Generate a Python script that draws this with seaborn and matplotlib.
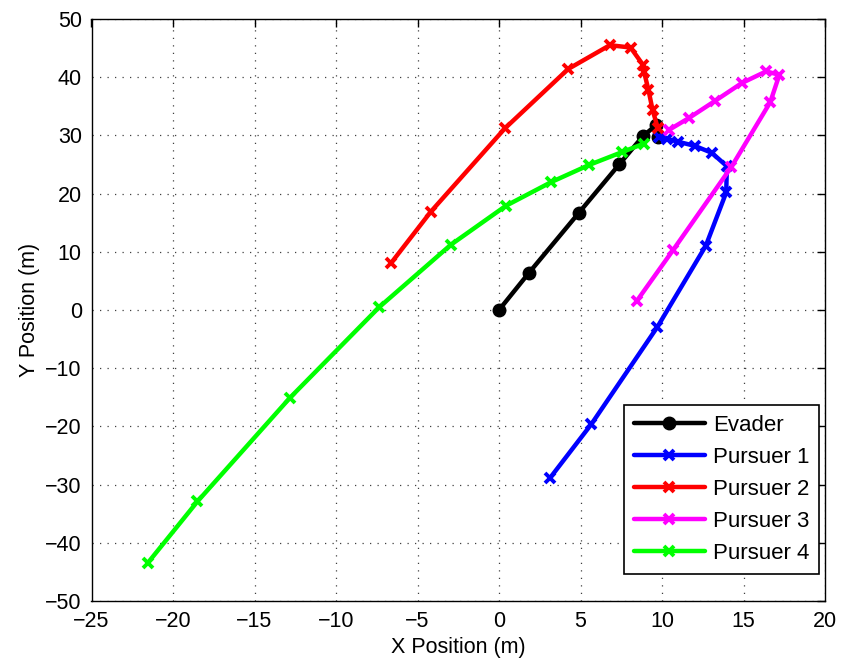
import matplotlib
matplotlib.use("Agg")
import matplotlib.pyplot as plt
import seaborn as sns
import numpy as np

# Trajectories (metres)
evader_x = [0.0, 1.83, 4.9, 7.37, 8.84, 9.66, 9.76]
evader_y = [0.0, 6.36, 16.7, 25.0, 29.9, 31.8, 29.8]

p1_x = [3.12, 5.67, 9.72, 12.69, 13.94, 13.98, 13.06, 12.01, 11.0, 10.29, 9.8]
p1_y = [-28.9, -19.6, -2.9, 11.05, 20.2, 24.7, 27.0, 28.2, 28.9, 29.4, 29.7]

p2_x = [-6.64, -4.18, 0.36, 4.24, 6.8, 8.07, 8.84, 8.9, 9.17, 9.42, 9.74]
p2_y = [8.0, 16.9, 31.2, 41.4, 45.5, 45.1, 42.1, 40.9, 37.8, 34.4, 31.3]

p3_x = [8.44, 10.68, 14.26, 16.64, 17.2, 16.39, 14.9, 13.24, 11.66, 10.46]
p3_y = [1.5, 10.3, 24.6, 35.7, 40.4, 41.0, 39.0, 35.9, 33.0, 31.0]

p4_x = [-21.53, -18.5, -12.83, -7.36, -2.96, 0.42, 3.22, 5.51, 7.52, 8.9]
p4_y = [-43.4, -32.9, -15.1, 0.46, 11.2, 17.9, 22.0, 24.9, 27.1, 28.6]

labels = ["Evader", "Pursuer 1", "Pursuer 2", "Pursuer 3", "Pursuer 4"]
colors = ["#000000", "#0000ff", "#ff0000", "#ff00ff", "#00ff00"]
xs = [evader_x, p1_x, p2_x, p3_x, p4_x]
ys = [evader_y, p1_y, p2_y, p3_y, p4_y]

x_ticks = list(range(-25, 21, 5))
y_ticks = list(range(-50, 51, 10))

sns.set_style("white")
plt.rcParams["font.family"] = ["Liberation Sans", "DejaVu Sans"]
plt.rcParams["axes.unicode_minus"] = True
plt.rcParams["text.color"] = "black"
plt.rcParams["axes.labelcolor"] = "black"

fig = plt.figure(figsize=(8.47, 6.67), dpi=100)
ax = fig.add_axes([91.5 / 847, 1 - 601 / 667, (825 - 91.5) / 847, (601 - 19) / 667])

for i, (x, y, lab, c) in enumerate(zip(xs, ys, labels, colors)):
    if i == 0:
        kw = dict(marker="o", markersize=9, markeredgewidth=1)
    else:
        kw = dict(marker="x", markersize=7.5, markeredgewidth=2.8)
    sns.lineplot(x=x, y=y, sort=False, estimator=None, ax=ax, color=c,
                 linewidth=3.2, label=lab, markeredgecolor=c, **kw)

ax.set_xlim(-25, 20)
ax.set_ylim(-50, 50)
ax.set_xticks(x_ticks)
ax.set_yticks(y_ticks)
ax.grid(True, color="#404040", linestyle=(0, (1, 5)), linewidth=0.9)
ax.tick_params(direction="in", top=True, right=True, length=6, width=1,
               labelsize=15.5, pad=7, colors="black")
for s in ax.spines.values():
    s.set_visible(True)
    s.set_color("black")
    s.set_linewidth(1.0)

ax.set_xlabel("X Position (m)", fontsize=15.5, labelpad=4, color="black")
ax.set_ylabel("Y Position (m)", fontsize=15.5, labelpad=4, color="black")

leg = ax.legend(loc="lower right", bbox_to_anchor=(0.992, 0.046),
                borderaxespad=0, fontsize=16, frameon=True, fancybox=False,
                edgecolor="black", framealpha=1, handlelength=3.2,
                handletextpad=0.35, labelspacing=0.5, borderpad=0.45)
leg.get_frame().set_linewidth(1.2)

fig.savefig("out.png", dpi=100)
